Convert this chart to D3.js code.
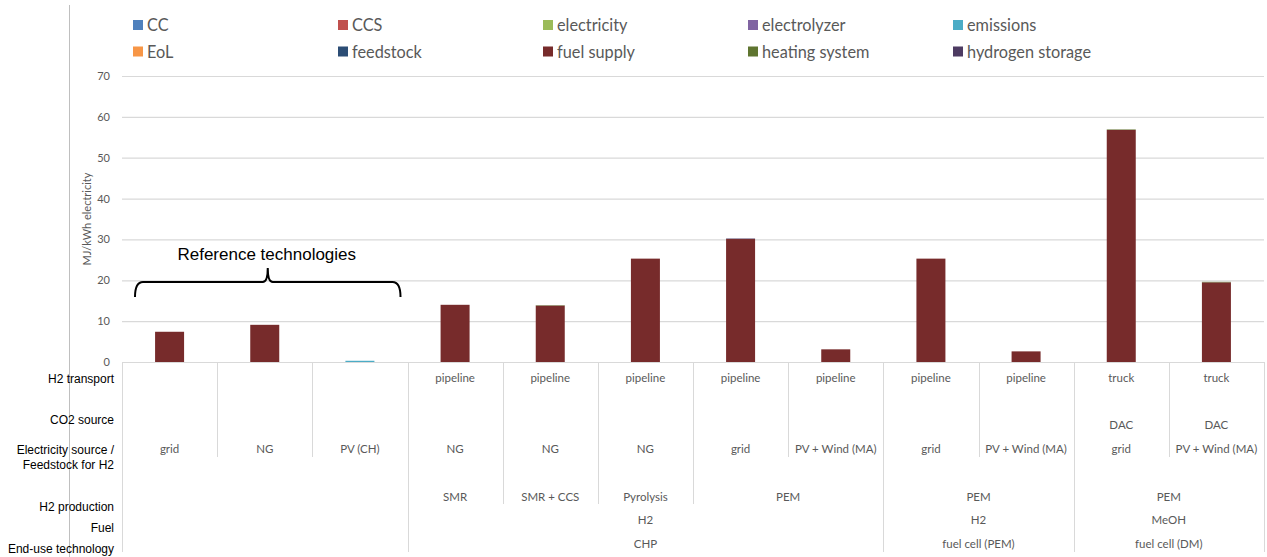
<!DOCTYPE html>
<html>
<head>
<meta charset="utf-8">
<script src="https://cdn.jsdelivr.net/npm/d3@7"></script>
<style>
  body { margin: 0; background: #fff; }
  svg { display: block; }
  text { font-family: Lato, "Open Sans", sans-serif; }
</style>
</head>
<body>
<svg id="chart" width="1267" height="557"></svg>
<script>
// Contribution categories, in stacking order (first = bottom)
const seriesNames = ["CC", "CCS", "electricity", "electrolyzer", "emissions",
  "EoL", "feedstock", "fuel supply", "heating system", "hydrogen storage"];
const seriesColors = ["#4F81BD", "#C0504D", "#9BBB59", "#8064A2", "#4BACC6",
  "#F79646", "#2C4D75", "#772B2B", "#5F7530", "#4D3B62"];

// Technology chains (one bar each)
const categories = ["c1","c2","c3","c4","c5","c6","c7","c8","c9","c10","c11","c12"];

// MJ/kWh electricity per contribution
const fuelSupply      = [7.4, 9.1, 0,   14.0, 13.8, 25.3, 30.1, 3.1, 25.3, 2.6, 56.8, 19.5];
const emissions       = [0,   0,   0.3, 0,    0,    0,    0,    0,   0,    0,   0,    0];
const heatingSystem   = [0,   0,   0,   0,    0.1,  0,    0,    0,   0,    0,   0.12, 0.12];
const hydrogenStorage = [0,   0,   0,   0,    0,    0,    0.12, 0,   0,    0,   0,    0];

// Row labels of the category table
const rowLabels = ["H2 transport", "CO2 source", "Electricity source /\nFeedstock for H2",
  "H2 production", "Fuel", "End-use technology"];
// Per-bar labels
const h2Transport = ["", "", "", "pipeline","pipeline","pipeline","pipeline","pipeline","pipeline","pipeline","truck","truck"];
const co2Source   = ["", "", "", "", "", "", "", "", "", "", "DAC", "DAC"];
const elecSource  = ["grid","NG","PV (CH)","NG","NG","NG","grid","PV + Wind (MA)","grid","PV + Wind (MA)","grid","PV + Wind (MA)"];
// Grouped labels: [first index, last index, label]
const h2Production = [[0,2,""],[3,3,"SMR"],[4,4,"SMR + CCS"],[5,5,"Pyrolysis"],[6,7,"PEM"],[8,9,"PEM"],[10,11,"PEM"]];
const fuelGroups   = [[0,2,""],[3,7,"H2"],[8,9,"H2"],[10,11,"MeOH"]];
const endUseGroups = [[0,2,""],[3,7,"CHP"],[8,9,"fuel cell (PEM)"],[10,11,"fuel cell (DM)"]];
const yTicks = [0,10,20,30,40,50,60,70];

const rows = categories.map((c, i) => {
  const r = { cat: c };
  seriesNames.forEach(s => r[s] = 0);
  r["fuel supply"] = fuelSupply[i];
  r["emissions"] = emissions[i];
  r["heating system"] = heatingSystem[i];
  r["hydrogen storage"] = hydrogenStorage[i];
  return r;
});

const svg = d3.select("#chart");
const x = d3.scaleBand().domain(categories).range([122, 1264]).paddingInner(0).paddingOuter(0);
const y = d3.scaleLinear().domain([0, 70]).range([362, 76]);
const color = d3.scaleOrdinal().domain(seriesNames).range(seriesColors);
const grey = "#595959";

// Left frame line
svg.append("line").attr("x1", 69.5).attr("x2", 69.5).attr("y1", 5).attr("y2", 557)
  .attr("stroke", "#bfbfbf").attr("stroke-width", 1);

// Gridlines + tick labels
const yAxis = d3.axisLeft(y).tickValues(yTicks).tickSize(-(1264 - 122)).tickPadding(12);
const ga = svg.append("g").attr("transform", "translate(122,0)").call(yAxis);
ga.select(".domain").remove();
ga.selectAll(".tick line").attr("stroke", "#d9d9d9").attr("stroke-width", 1.2);
ga.selectAll(".tick text").attr("fill", grey).style("font-size", "11px")
  .style("font-family", "Lato, sans-serif");

// Axis title
svg.append("text")
  .attr("transform", `translate(91,${y(35)}) rotate(-90)`)
  .attr("text-anchor", "middle").attr("fill", grey).style("font-size", "11px")
  .text("MJ/kWh electricity");

// Stacked bars
const stack = d3.stack().keys(seriesNames)(rows);
const barW = 29;
svg.append("g").selectAll("g").data(stack).join("g")
  .attr("fill", d => color(d.key))
  .selectAll("rect").data(d => d).join("rect")
  .attr("x", d => x(d.data.cat) + x.bandwidth() / 2 - barW / 2)
  .attr("width", barW)
  .attr("y", d => y(d[1]))
  .attr("height", d => Math.max(0, y(d[0]) - y(d[1])));

// Legend
const legCols = [133, 338, 543, 748, 953];
const legend = svg.append("g");
seriesNames.forEach((s, i) => {
  const col = i % 5, row = Math.floor(i / 5);
  const lx = legCols[col], ly = 25 + row * 26.5;
  legend.append("rect").attr("x", lx).attr("y", ly - 5).attr("width", 10).attr("height", 10)
    .attr("fill", color(s));
  legend.append("text").attr("x", lx + 14).attr("y", ly + 6).attr("fill", grey)
    .style("font-size", "16.3px").text(s);
});

// Category table
const table = svg.append("g");
const cx = i => x(categories[i]) + x.bandwidth() / 2;
const edge = i => x(categories[i]);
const y0 = 362, yL1 = 457, yL2 = 504, yL3 = 552;

function vline(xp, y2) {
  table.append("line").attr("x1", Math.round(xp) + 0.5).attr("x2", Math.round(xp) + 0.5)
    .attr("y1", y0).attr("y2", y2).attr("stroke", "#d9d9d9").attr("stroke-width", 1);
}
// boundaries: deepest level reached by each boundary
const level3Edges = [0, 3, 8, 10, 12];
const level2Edges = [4, 5, 6];
for (let i = 0; i <= 12; i++) {
  const xp = i < 12 ? edge(i) : 1264;
  if (level3Edges.includes(i)) vline(xp, yL3);
  else if (level2Edges.includes(i)) vline(xp, yL2);
  else vline(xp, yL1);
}

function cellText(xp, yp, t) {
  table.append("text").attr("x", xp).attr("y", yp).attr("text-anchor", "middle")
    .attr("fill", grey).style("font-size", "11.5px").text(t);
}
categories.forEach((c, i) => {
  cellText(cx(i), 382, h2Transport[i]);
  cellText(cx(i), 429, co2Source[i]);
  cellText(cx(i), 453, elecSource[i]);
});
h2Production.forEach(([a, b, t]) => cellText((cx(a) + cx(b)) / 2, 501, t));
fuelGroups.forEach(([a, b, t]) => cellText((cx(a) + cx(b)) / 2, 524, t));
endUseGroups.forEach(([a, b, t]) => cellText((cx(a) + cx(b)) / 2, 548, t));

// Row labels
const rowY = [383, 424, 454, 511, 532, 553];
rowLabels.forEach((lab, i) => {
  const t = svg.append("text").attr("x", 114).attr("y", rowY[i]).attr("text-anchor", "end")
    .attr("fill", "#000").style("font-family", "'Liberation Sans', Arial, sans-serif")
    .style("font-size", "12px");
  lab.split("\n").forEach((line, k) => {
    t.append("tspan").attr("x", 114).attr("dy", k === 0 ? 0 : 15).text(line);
  });
});

// Brace over the reference technologies
const bL = edge(0) + 13, bR = edge(2) + x.bandwidth() - 7, bM = (bL + bR) / 2;
const bY = 282;
svg.append("path")
  .attr("d", `M${bL},${bY + 15} Q${bL},${bY} ${bL + 8},${bY} L${bM - 5},${bY} Q${bM},${bY} ${bM},${bY - 14} Q${bM},${bY} ${bM + 5},${bY} L${bR - 8},${bY} Q${bR},${bY} ${bR},${bY + 15}`)
  .attr("fill", "none").attr("stroke", "#000").attr("stroke-width", 2);
svg.append("text").attr("x", bM - 1).attr("y", 260).attr("text-anchor", "middle")
  .attr("fill", "#000").style("font-family", "'Liberation Sans', Arial, sans-serif")
  .style("font-size", "17px").text("Reference technologies");
</script>
</body>
</html>
